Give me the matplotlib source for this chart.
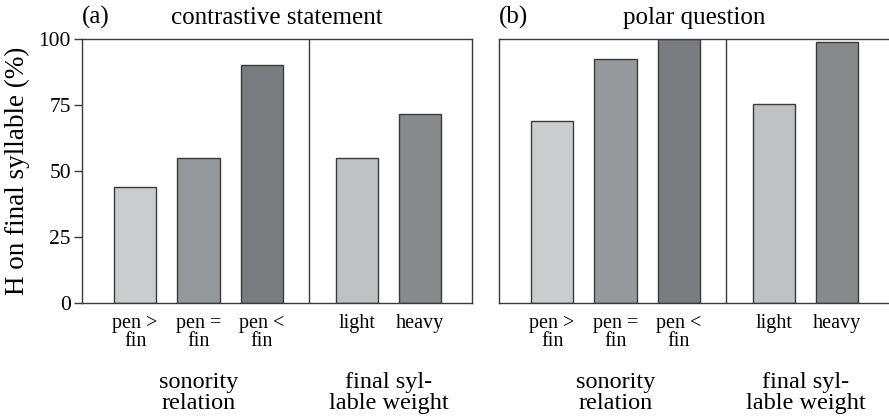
import matplotlib
matplotlib.use("Agg")
import matplotlib.pyplot as plt

plt.rcParams['font.family'] = ['Liberation Serif', 'DejaVu Serif']

tick_labels = ["pen >\nfin", "pen =\nfin", "pen <\nfin", "light", "heavy"]
group_labels = ["sonority\nrelation", "final syl-\nlable weight"]
panel_titles = ["contrastive statement", "polar question"]
panel_tags = ["(a)", "(b)"]
statement_values = [44, 55, 90, 55, 71.5]
question_values = [69, 92.5, 100, 75.5, 99]
bar_colors = ["#cbcccd", "#96999b", "#7b7c7f", "#c0c1c2", "#88898b"]

positions = [0, 1, 2, 3.5, 4.5]
divider = 2.75
group_centers = [1, 4]

fig = plt.figure(figsize=(8.89, 4.2), dpi=100)
ax_rects = [[82/889, 1-303/420, 390/889, 264/420],
            [499/889, 1-303/420, 390/889, 264/420]]
edge = "#3a3a3a"

for i, vals in enumerate([statement_values, question_values]):
    ax = fig.add_axes(ax_rects[i])
    ax.bar(positions, vals, width=0.67, color=bar_colors, edgecolor=edge, linewidth=1.0, zorder=2)
    ax.set_xlim(-0.84, 5.32)
    ax.set_ylim(0, 100)
    ax.axvline(divider, color=edge, linewidth=1.0, zorder=3)
    for s in ax.spines.values():
        s.set_color(edge)
        s.set_linewidth(1.0)
    if i == 1:
        ax.spines['right'].set_visible(False)
        ax.set_yticks([])
    else:
        ax.set_yticks([0, 25, 50, 75, 100])
        ax.tick_params(axis='y', length=6, width=1.0, color=edge, labelsize=15.5, pad=2)
        ax.set_ylabel("H on final syllable (%)", fontsize=19.5, labelpad=6)
    ax.set_xticks(positions)
    ax.set_xticklabels(tick_labels, fontsize=14.5, linespacing=0.92)
    ax.tick_params(axis='x', length=0, pad=8)
    for gc, gl in zip(group_centers, group_labels):
        ax.text(gc, -0.34, gl, transform=ax.get_xaxis_transform(), ha='center', va='center',
                fontsize=17.5, linespacing=1.02)
    ax.text(0.5, 1.08, panel_titles[i], transform=ax.transAxes, ha='center', va='center', fontsize=18)
    ax.text(0.0, 1.08, panel_tags[i], transform=ax.transAxes, ha='left', va='center', fontsize=18)

fig.savefig("out.png", dpi=100)
